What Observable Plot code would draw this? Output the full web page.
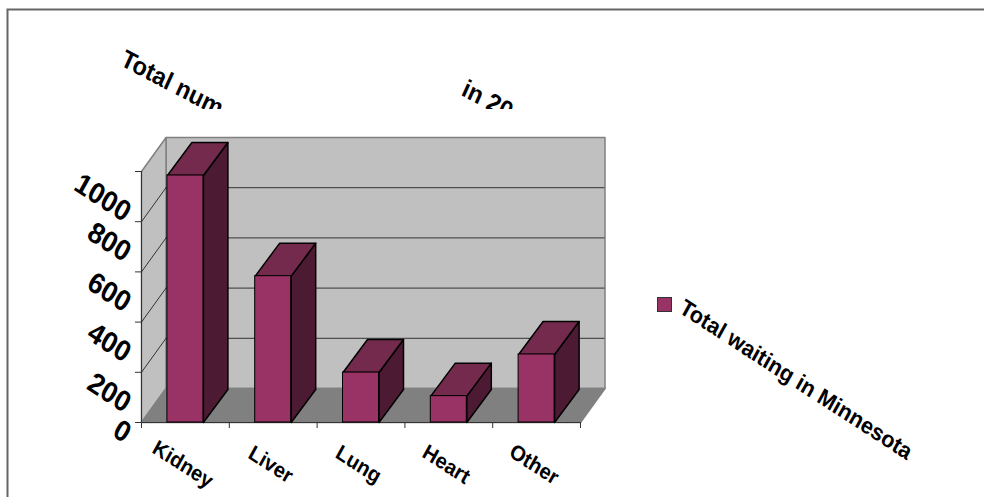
<!DOCTYPE html>
<html>
<head>
<meta charset="utf-8">
<style>
  html, body { margin: 0; padding: 0; background: #fff; overflow: hidden; }
  svg { display: block; }
</style>
<script src="https://cdn.jsdelivr.net/npm/d3@7"></script>
<script src="https://cdn.jsdelivr.net/npm/@observablehq/plot@0.6"></script>
</head>
<body>
<div id="chart"></div>
<script>
// Patients on the transplant waiting list, by organ
const categories = ["Kidney", "Liver", "Lung", "Heart", "Other"];
const waiting = [984, 583, 199, 105, 271];
const yTicks = [0, 200, 400, 600, 800, 1000];
const seriesName = "Total waiting in Minnesota";

// Chart box on the page, and the oblique offset used for the 3D depth
const box = {left: 141, right: 580, bottom: 422, top: 171};
const pxPerX = (box.right - box.left) / categories.length;
const pxPerY = (box.bottom - box.top) / 1000;
const X = (px) => (px - box.left) / pxPerX;
const Y = (py) => (box.bottom - py) / pxPerY;
const depthX = 24.5 / pxPerX;
const depthY = 34 / pxPerY;
const barDepthY = 33 / pxPerY;
const barWidth = 0.41;

const font = "Liberation Sans, Arial, sans-serif";
const colors = {
  front: "#993366", top: "#732A4D", side: "#4D1A33",
  wall: "#C0C0C0", floor: "#808080", edge: "#808080", grid: "#333333"
};

// Closed outline helper: each face is a list of [x, y] corners
const outline = (id, corners) => corners.map(([x, y]) => ({id, x, y}));
const n = categories.length;
const ymax = 1000;

const wallFaces = outline("back", [[depthX, depthY], [n + depthX, depthY], [n + depthX, ymax + depthY], [depthX, ymax + depthY]])
  .concat(outline("left", [[0, 0], [depthX, depthY], [depthX, ymax + depthY], [0, ymax]]));
const floorFace = outline("floor", [[0, 0], [n, 0], [n + depthX, depthY], [depthX, depthY]]);

const bars = waiting.map((v, i) => ({
  name: categories[i], v,
  x1: i + 0.5 - barWidth / 2,
  x2: i + 0.5 + barWidth / 2
}));
const topFaces = bars.flatMap((b) => outline(b.name, [[b.x1, b.v], [b.x2, b.v], [b.x2 + depthX, b.v + barDepthY], [b.x1 + depthX, b.v + barDepthY]]));
const sideFaces = bars.flatMap((b) => outline(b.name, [[b.x2, 0], [b.x2 + depthX, barDepthY], [b.x2 + depthX, b.v + barDepthY], [b.x2, b.v]]));

const gridValues = yTicks.filter((t) => t > 0 && t < ymax);

// Stretches rotated labels slightly along the page's vertical, which gives them their slant
const stretch = (factor) => (index, scales, values, dimensions, context, next) => {
  const g = next(index, scales, values, dimensions, context);
  d3.select(g).selectAll("text").attr("transform", function () {
    return this.getAttribute("transform").replace("rotate(", `scale(1,${factor}) rotate(`);
  });
  return g;
};
const textBold = (rotate) => ({fontFamily: font, fontWeight: "bold", fill: "#000", rotate, lineAnchor: "middle", render: stretch(1.08)});

const chart = Plot.plot({
  width: 984,
  height: 497,
  marginLeft: 7,
  marginTop: 9,
  marginRight: -6,
  marginBottom: -6,
  x: {domain: [0, n], range: [box.left, box.right], axis: null},
  y: {domain: [0, ymax], range: [box.bottom, box.top], axis: null},
  style: {background: "#fff", fontFamily: font},
  marks: [
    Plot.frame({stroke: "#666", strokeWidth: 2}),

    // Chart title, cut off by the plot area's upper edge
    Plot.text(["Total num"], {x: X(122), y: Y(57), text: (d) => d, textAnchor: "start", fontSize: 23.5, ...textBold(26)}),
    Plot.text(["in 20"], {x: X(463), y: Y(87), text: (d) => d, textAnchor: "start", fontSize: 23.5, ...textBold(26)}),
    Plot.rect([0], {x1: X(100), x2: X(540), y1: Y(109), y2: Y(135), fill: "#fff"}),

    // Walls, floor and gridlines
    Plot.line(wallFaces, {x: "x", y: "y", z: "id", fill: colors.wall, stroke: colors.edge, curve: "linear-closed"}),
    Plot.line(floorFace, {x: "x", y: "y", z: "id", fill: colors.floor, stroke: colors.edge, curve: "linear-closed"}),
    Plot.ruleY(gridValues, {x1: depthX, x2: n + depthX, y: (d) => d + depthY, stroke: colors.grid, strokeOpacity: 1, strokeWidth: 1}),
    Plot.link(gridValues, {x1: 0, y1: (d) => d, x2: depthX, y2: (d) => d + depthY, stroke: colors.grid, strokeWidth: 1}),

    // Value and category axes
    Plot.ruleX([0], {y1: 0, y2: ymax, stroke: colors.grid}),
    Plot.ruleY([0], {x1: 0, x2: n, stroke: colors.grid}),
    Plot.axisY(yTicks, {x: 0, anchor: "left", tickSize: 6, tickFormat: () => "", label: null, stroke: colors.grid, strokeOpacity: 1}),
    Plot.axisX(d3.range(n + 1), {y: 0, anchor: "bottom", tickSize: 6, tickFormat: () => "", label: null, stroke: colors.grid, strokeOpacity: 1}),

    // Bars
    Plot.line(sideFaces, {x: "x", y: "y", z: "id", fill: colors.side, stroke: "#000", curve: "linear-closed"}),
    Plot.line(topFaces, {x: "x", y: "y", z: "id", fill: colors.top, stroke: "#000", curve: "linear-closed"}),
    Plot.rectY(bars, {x1: "x1", x2: "x2", y1: 0, y2: "v", fill: colors.front, stroke: "#000"}),

    // Rotated tick labels
    Plot.text(yTicks, {
      x: X(128),
      y: (d) => d - (3 + 10 * String(d).length) / pxPerY,
      text: (d) => String(d),
      textAnchor: "end",
      fontSize: 27,
      ...textBold(31)
    }),
    Plot.text(categories, {
      x: (d, i) => X(box.left + (i + 0.5) * pxPerX - 2.5),
      y: Y(464),
      text: (d) => d,
      textAnchor: "middle",
      fontSize: 20,
      ...textBold(31)
    }),

    // Series key
    Plot.rect([seriesName], {x1: X(657.5), x2: X(671.5), y1: Y(311.5), y2: Y(297.5), fill: colors.front, stroke: "#333"}),
    Plot.text([seriesName], {x: X(681), y: Y(305), text: (d) => d, textAnchor: "start", fontSize: 21.5, ...textBold(31)})
  ]
});
document.getElementById("chart").appendChild(chart);
</script>
</body>
</html>
